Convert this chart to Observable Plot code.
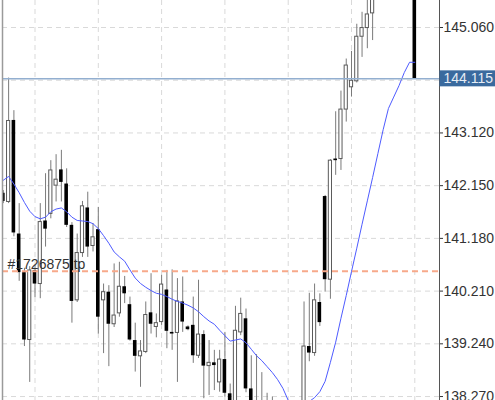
<!DOCTYPE html>
<html><head><meta charset="utf-8">
<script src="https://cdn.jsdelivr.net/npm/d3@7"></script>
<script src="https://cdn.jsdelivr.net/npm/@observablehq/plot@0.6"></script>
<style>html,body{margin:0;padding:0;background:#fff;overflow:hidden}</style>
</head><body><div id="chart"></div>
<script>
const open = [142.01,141.85,143.35,141.26,140.55,139.31,140.59,140.34,141.50,141.63,
142.15,142.44,142.18,141.42,140.04,140.91,141.74,141.04,141.34,140.04,
140.19,139.60,139.80,140.29,139.96,139.30,139.01,139.09,139.81,139.55,
139.64,140.23,139.45,139.44,140.01,139.55,139.58,139.02,139.41,138.83,
138.89,138.53,138.95,138.32,138.15,139.45,139.70,138.41,137.90,137.80,
137.60,137.50,137.50,137.60,137.40,137.70,137.60,137.90,139.19,139.07,
140.00,141.95,140.42,142.64,142.64,143.55,143.96,144.07,144.89,145.05,
145.32,145.65,145.95,146.20,146.40,146.30,146.50,146.70,146.60];
const high = [142.06,144.13,143.53,141.82,140.63,140.66,140.68,141.82,142.37,142.61,
142.72,142.80,142.46,141.47,141.26,141.86,142.03,141.45,141.75,140.34,
140.31,140.71,140.74,140.48,140.10,139.62,139.30,140.01,140.53,139.79,
140.50,140.59,140.60,140.44,140.47,139.57,140.10,140.41,139.48,139.30,
139.12,139.12,139.45,138.50,139.93,140.08,139.88,139.02,139.04,138.71,
138.33,138.26,138.10,138.05,137.90,138.10,138.00,140.01,140.17,140.34,
140.16,141.97,142.63,143.51,143.89,144.48,144.62,145.12,145.34,145.59,
145.70,146.05,146.30,146.55,146.70,146.60,146.90,146.95,146.80];
const low = [141.82,141.82,141.21,140.39,139.19,138.53,140.09,140.07,141.02,141.54,
141.85,141.85,141.38,139.62,140.00,140.83,140.83,140.93,139.42,139.06,
138.82,139.54,139.73,139.98,139.29,138.72,138.44,139.06,139.42,139.35,
139.58,139.15,139.12,138.53,139.45,139.48,138.88,138.97,138.23,138.29,
138.38,138.35,138.26,138.00,138.05,139.39,138.34,137.80,137.60,137.50,
137.30,137.20,137.20,137.30,137.10,137.40,137.30,137.80,138.91,139.01,
139.56,140.19,140.06,142.34,142.43,143.32,143.78,144.04,144.51,144.67,
144.82,145.60,145.85,146.05,146.20,146.10,146.35,146.50,144.115];
const close = [141.86,143.34,141.28,140.55,139.31,140.59,140.34,141.48,141.35,142.43,
142.26,142.21,141.42,140.02,140.91,141.77,141.02,141.20,139.73,140.19,
139.60,139.76,140.29,140.16,139.31,139.01,139.10,139.77,139.60,139.62,
140.33,139.47,139.42,140.02,139.64,139.50,139.02,139.41,138.83,138.89,
138.84,138.95,138.33,138.10,139.48,139.79,138.41,137.90,137.80,137.60,
137.50,137.50,137.60,137.40,137.70,137.60,137.90,139.19,139.07,140.04,
139.63,140.42,142.61,142.61,143.55,144.36,144.08,144.89,145.05,145.30,
145.60,145.95,146.20,146.40,146.30,146.50,146.70,146.60,144.115];
const ma = [142.25,142.32,142.18,142.02,141.84,141.68,141.58,141.54,141.57,141.67,
141.72,141.74,141.67,141.57,141.51,141.50,141.49,141.45,141.36,141.23,
141.09,140.93,140.84,140.76,140.60,140.45,140.35,140.28,140.22,140.17,
140.15,140.11,140.06,140.02,139.99,139.95,139.90,139.83,139.74,139.66,
139.60,139.49,139.39,139.29,139.31,139.33,139.26,139.14,139.02,138.93,
138.82,138.71,138.58,138.42,138.20,138.08,138.02,138.05,138.18,138.25,
138.36,138.55,138.90,139.27,139.71,140.13,140.57,141.00,141.44,141.87,
142.30,142.74,143.18,143.57,143.78,143.99,144.23,144.42,144.42];
const yTicks = [145.06,144.09,143.12,142.15,141.18,140.21,139.24,138.27];
const yLabels = [145.06,143.12,142.15,141.18,140.21,139.24,138.27];
const xGrid = [6,18,30,42,54,66,78];
const currentPrice = 144.115;
const tpPrice = 140.576;
const tpLabel = "#1726875 tp";

const candles = open.map((o, i) => ({i, o, h: high[i], l: low[i], c: close[i], m: ma[i]}));
const down = candles.filter(d => d.c < d.o);
const up = candles.filter(d => d.c >= d.o);
const fmt = d3.format(".3f");

const chart = Plot.plot({
  width: 495, height: 400,
  marginLeft: 2, marginRight: 56, marginTop: 0, marginBottom: 0,
  style: {fontFamily: "'Liberation Sans', Arial, sans-serif", fontSize: "14px", background: "#fff"},
  x: {domain: [-0.161, 82.68], axis: null},
  y: {domain: [138.197, 145.557], axis: null},
  marks: [
    Plot.ruleY(yTicks, {stroke: "#d9d9d9", strokeDasharray: "5,4", strokeWidth: 1}),
    Plot.ruleX(xGrid, {stroke: "#d9d9d9", strokeDasharray: "5,4", strokeWidth: 1}),
    Plot.ruleX(candles, {x: "i", y1: "l", y2: "h", stroke: "#7a7a7a", strokeWidth: 1, clip: true}),
    Plot.rect(down, {x1: d => d.i - 0.34, x2: d => d.i + 0.34, y1: "o", y2: "c", fill: "#000", clip: true}),
    Plot.rect(up, {x1: d => d.i - 0.30, x2: d => d.i + 0.30, y1: "o", y2: "c", fill: "#fff", stroke: "#5a5a5a", strokeWidth: 1, clip: true}),
    Plot.line(candles, {x: "i", y: "m", stroke: "#4e5bff", strokeWidth: 1, clip: true}),
    Plot.ruleY([tpPrice], {stroke: "#f7a98a", strokeWidth: 2, strokeDasharray: "6,4"}),
    Plot.text([tpPrice], {y: d => d, text: () => tpLabel, frameAnchor: "left", textAnchor: "start", dx: 5, dy: -7, fontSize: 14, fill: "#333"}),
    Plot.ruleY([currentPrice], {stroke: "#93afd0", strokeWidth: 1.5}),
    Plot.frame({anchor: "left", stroke: "#9a9a9a", strokeWidth: 1.5}),
    Plot.frame({anchor: "right", stroke: "#555"}),
    Plot.axisY(yLabels, {anchor: "right", tickSize: 3, tickPadding: 1, tickFormat: fmt, fontSize: 14, color: "#333"}),
    Plot.text([currentPrice], {y: d => d, text: d => fmt(d), frameAnchor: "right", textAnchor: "start", dx: 4, fontSize: 14, fill: "#e6edf5"})
  ]
});
document.getElementById("chart").append(chart);
const svgBox = chart.getBoundingClientRect();
d3.select(chart).selectAll("text").filter(function() { return this.textContent === fmt(currentPrice); }).each(function() {
  const r = this.getBoundingClientRect();
  const g = this.parentNode;
  d3.select(chart).insert("rect", () => g)
    .attr("x", r.left - svgBox.left - 4).attr("y", r.top - svgBox.top)
    .attr("width", r.width + 6).attr("height", r.height)
    .attr("fill", "#3a6a9e");
});
</script></body></html>
